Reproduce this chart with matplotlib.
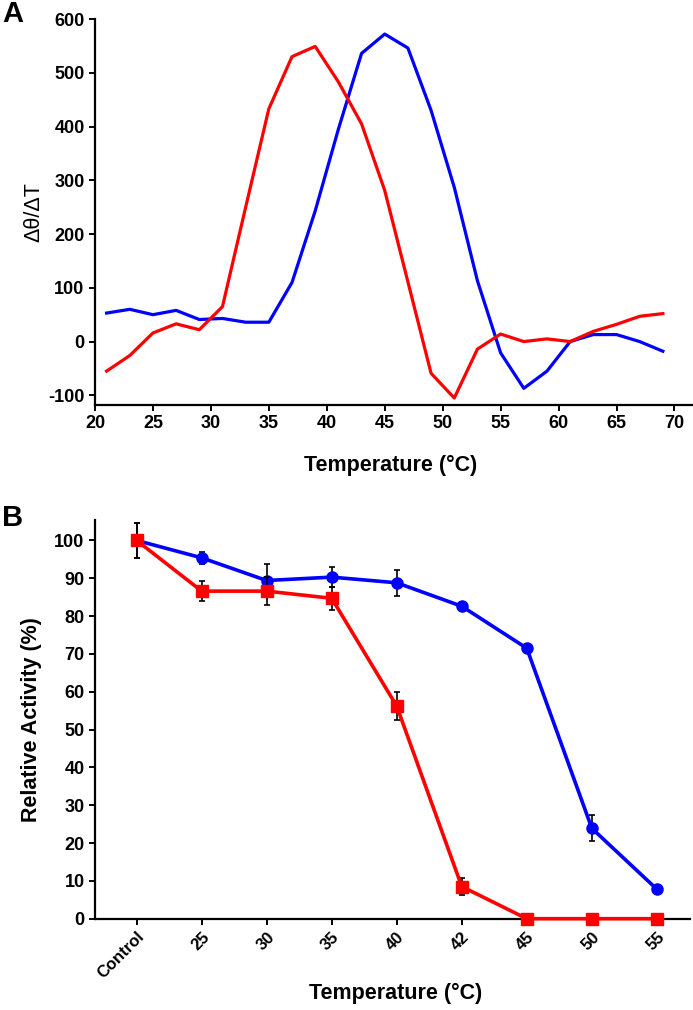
import matplotlib

matplotlib.use("Agg")
import matplotlib.pyplot as plt

plt.rcParams["font.family"] = ["Liberation Sans", "DejaVu Sans"]
plt.rcParams["axes.unicode_minus"] = False

# Panel A: derivative of CD signal vs temperature
temps_a = [21, 23, 25, 27, 29, 31, 33, 35, 37, 39, 41, 43, 45,
           47, 49, 51, 53, 55, 57, 59, 61, 63, 65, 67, 69]
red_a = [-55, -26, 16, 33, 22, 65, 250, 433, 530, 549, 483, 405, 281,
         111, -59, -105, -14, 14, 0, 5, 0, 19, 32, 47, 52]
blue_a = [53, 60, 50, 58, 41, 43, 36, 36, 110, 243, 395, 536, 572,
          546, 430, 287, 113, -21, -87, -55, 0, 13, 13, 0, -18]

# Panel B: relative activity after heat treatment
categories_b = ["Control", "25", "30", "35", "40", "42", "45", "50", "55"]
blue_b = [100, 95.4, 89.4, 90.3, 88.8, 82.6, 71.5, 23.9, 7.8]
blue_err = [4.7, 1.5, 4.4, 2.6, 3.5, 1.0, 0.5, 3.4, 0.5]
red_b = [100, 86.6, 86.6, 84.7, 56.2, 8.5, 0, 0, 0]
red_err = [4.7, 2.7, 3.7, 3.0, 3.6, 2.2, 0, 0, 0]

RED = "#ff0000"
BLUE = "#0000ff"

fig = plt.figure(figsize=(6.93, 10.10), dpi=100)


def style_axes(ax, size=13):
    for side in ("top", "right"):
        ax.spines[side].set_visible(False)
    for side in ("left", "bottom"):
        ax.spines[side].set_linewidth(1.6)
    ax.tick_params(width=1.4, length=4, labelsize=size)
    for lbl in ax.get_xticklabels() + ax.get_yticklabels():
        lbl.set_fontweight("bold")


# ---- Panel A ----
ax1 = fig.add_axes([95 / 693, 1 - 405 / 1010, 598 / 693, (405 - 19) / 1010])
ax1.plot(temps_a, blue_a, color=BLUE, lw=2.3)
ax1.plot(temps_a, red_a, color=RED, lw=2.3)
ax1.set_xlim(20, 71.6)
ax1.set_ylim(-118, 600)
ax1.set_xticks(range(20, 75, 5))
ax1.set_yticks(range(-100, 700, 100))
style_axes(ax1)
fig.text(34 / 693, 1 - 212 / 1010, "\u0394\u03b8/\u0394T", rotation=90,
         ha="center", va="center", fontsize=15.5)
fig.text(391 / 693, 1 - 465 / 1010, "Temperature (\u00b0C)", ha="center",
         va="center", fontsize=15.5, fontweight="bold")
fig.text(2 / 693, 1 - 14 / 1010, "A", ha="left", va="center",
         fontsize=21, fontweight="bold")

# ---- Panel B ----
ax2 = fig.add_axes([95 / 693, 1 - 918.7 / 1010, 595 / 693, (918.7 - 520) / 1010])
xpos = list(range(len(categories_b)))
ax2.errorbar(xpos, blue_b, yerr=blue_err, color=BLUE, lw=2.6, marker="o",
             ms=8, ecolor="black", elinewidth=1.2, capsize=2.5, capthick=1.2,
             clip_on=False, zorder=3)
ax2.errorbar(xpos, red_b, yerr=red_err, color=RED, lw=2.6, marker="s",
             ms=8, ecolor="black", elinewidth=1.2, capsize=2.5, capthick=1.2,
             clip_on=False, zorder=4)
ax2.set_xlim(-0.64, 8.51)
ax2.set_ylim(0, 105.4)
ax2.set_yticks(range(0, 101, 10))
ax2.set_xticks(xpos)
ax2.set_xticklabels(categories_b, rotation=45, ha="right",
                    rotation_mode="anchor")
style_axes(ax2)
ax2.tick_params(axis="x", labelsize=12)
fig.text(32 / 693, 1 - 720 / 1010, "Relative Activity (%)", rotation=90,
         ha="center", va="center", fontsize=15.5, fontweight="bold")
fig.text(396 / 693, 1 - 993 / 1010, "Temperature (\u00b0C)", ha="center",
         va="center", fontsize=15.5, fontweight="bold")
fig.text(2 / 693, 1 - 518 / 1010, "B", ha="left", va="center",
         fontsize=21, fontweight="bold")

fig.savefig("out.png", dpi=100)
